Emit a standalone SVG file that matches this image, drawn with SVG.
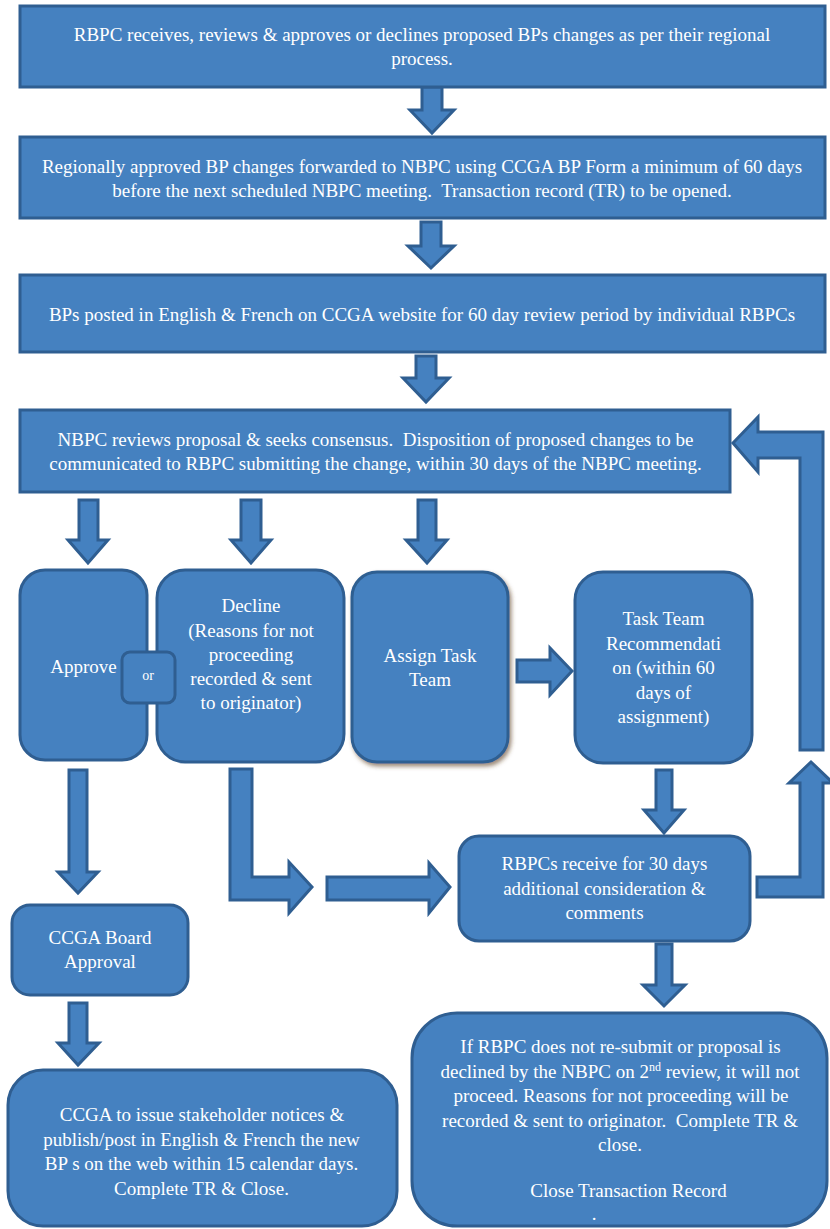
<svg xmlns="http://www.w3.org/2000/svg" width="830" height="1229" viewBox="0 0 830 1229">
<style>
.box{fill:#4581C0;stroke:#2F5E91;stroke-width:3}
.arr{fill:#4581C0;stroke:#2F5E91;stroke-width:3;stroke-linejoin:miter}
text{font-family:"Liberation Serif","Times New Roman",serif;font-size:19px;fill:#FFFFFF;text-anchor:middle;white-space:pre}
.sm{font-size:14px}
</style>
<defs>
<filter id="shadow" x="-10%" y="-10%" width="130%" height="130%">
<feDropShadow dx="2" dy="3" stdDeviation="2" flood-color="#5a3a20" flood-opacity="0.6"/>
</filter>
</defs>
<rect width="830" height="1229" fill="#FFFFFF"/>
<g id="connectors">
<polygon class="arr" points="422,87 442,87 442,110 454,110 432,133 410,110 422,110"/>
<polygon class="arr" points="421,222 441,222 441,246 454,246 431,268 408,246 421,246"/>
<polygon class="arr" points="416,356 436,356 436,378 449,378 426,402 403,378 416,378"/>
<polygon class="arr" points="79,500 98,500 98,540 108,540 88,563 68,540 79,540"/>
<polygon class="arr" points="241,500 261,500 261,540 271,540 251,563 231,540 241,540"/>
<polygon class="arr" points="418,500 436,500 436,540 447,540 427,563 406,540 418,540"/>
<polygon class="arr" points="517,660 550,660 550,648 572,671 550,695 550,682 517,682"/>
<polygon class="arr" points="69,770 87,770 87,872 98,872 78,893 58,872 69,872"/>
<polygon class="arr" points="69,1003 87,1003 87,1043 99,1043 78,1065 58,1043 69,1043"/>
<polygon class="arr" points="656,770 672,770 672,810 684,810 664,833 644,810 656,810"/>
<polygon class="arr" points="656,944 672,944 672,985 685,985 664,1006 643,985 656,985"/>
<polygon class="arr" points="230,769 252,769 252,877 289,877 289,862 312,887 289,913 289,900 230,900"/>
<polygon class="arr" points="327,877 429,877 429,863 450,887 429,913 429,900 327,900"/>
<polygon class="arr" points="733,443 758,417 758,432 823,432 823,750 800,750 800,458 758,458 758,472"/>
<polygon class="arr" points="757,877 800,877 800,783 789,783 811,762 833,783 823,783 823,897 757,897"/>
</g>
<g id="n1">
<rect class="box" x="20" y="6" width="805" height="81"/>
<text x="422" y="41">RBPC receives, reviews &amp; approves or declines proposed BPs changes as per their regional</text>
<text x="422" y="65">process.</text>
</g>
<g id="n2">
<rect class="box" x="20" y="137" width="805" height="81"/>
<text x="422" y="173">Regionally approved BP changes forwarded to NBPC using CCGA BP Form a minimum of 60 days</text>
<text x="422" y="197">before the next scheduled NBPC meeting.  Transaction record (TR) to be opened.</text>
</g>
<g id="n3">
<rect class="box" x="20" y="275" width="805" height="77"/>
<text x="422" y="321">BPs posted in English &amp; French on CCGA website for 60 day review period by individual RBPCs</text>
</g>
<g id="n4">
<rect class="box" x="20" y="410" width="710" height="82"/>
<text x="375.5" y="446">NBPC reviews proposal &amp; seeks consensus.  Disposition of proposed changes to be</text>
<text x="375.5" y="470">communicated to RBPC submitting the change, within 30 days of the NBPC meeting.</text>
</g>
<g id="approve">
<rect class="box" x="20" y="570" width="127" height="190" rx="25"/>
<text x="83.5" y="673">Approve</text>
</g>
<g id="decline">
<rect class="box" x="157" y="570" width="187" height="192" rx="28"/>
<text x="251" y="612">Decline</text>
<text x="251" y="636.5">(Reasons for not</text>
<text x="251" y="660.5">proceeding</text>
<text x="251" y="685">recorded &amp; sent</text>
<text x="251" y="709">to originator)</text>
</g>
<g id="or">
<rect class="box" x="122" y="652" width="53" height="51" rx="8"/>
<text class="sm" x="148" y="680">or</text>
</g>
<g id="assign">
<rect class="box" x="352" y="572" width="156" height="190" rx="25" filter="url(#shadow)"/>
<text x="430" y="662">Assign Task</text>
<text x="430" y="686">Team</text>
</g>
<g id="taskrec">
<rect class="box" x="575" y="572" width="177" height="191" rx="28"/>
<text x="663.5" y="625">Task Team</text>
<text x="663.5" y="649.5">Recommendati</text>
<text x="663.5" y="674">on (within 60</text>
<text x="663.5" y="698.5">days of</text>
<text x="663.5" y="723">assignment)</text>
</g>
<g id="rbpcs">
<rect class="box" x="459" y="836" width="291" height="105" rx="20"/>
<text x="604.5" y="870">RBPCs receive for 30 days</text>
<text x="604.5" y="894.5">additional consideration &amp;</text>
<text x="604.5" y="919">comments</text>
</g>
<g id="board">
<rect class="box" x="12" y="905" width="176" height="90" rx="18"/>
<text x="100" y="944">CCGA Board</text>
<text x="100" y="968">Approval</text>
</g>
<g id="publish">
<rect class="box" x="8" y="1070" width="389" height="156" rx="35"/>
<text x="202" y="1121">CCGA to issue stakeholder notices &amp;</text>
<text x="201.5" y="1145.5">publish/post in English &amp; French the new</text>
<text x="201.5" y="1170">BP s on the web within 15 calendar days.</text>
<text x="201.5" y="1194.5">Complete TR &amp; Close.</text>
</g>
<g id="close">
<rect class="box" x="412" y="1013" width="415" height="213" rx="45"/>
<text x="620.5" y="1053">If RBPC does not re-submit or proposal is</text>
<text x="620" y="1077.5">declined by the NBPC on 2<tspan font-size="12" dy="-7">nd</tspan><tspan dy="7"> review, it will not</tspan></text>
<text x="621" y="1102">proceed. Reasons for not proceeding will be</text>
<text x="620" y="1126.5">recorded &amp; sent to originator.  Complete TR &amp;</text>
<text x="620" y="1151">close.</text>
<text x="628.5" y="1197">Close Transaction Record</text>
<text x="594" y="1220" font-size="5">.</text>
</g>
</svg>
